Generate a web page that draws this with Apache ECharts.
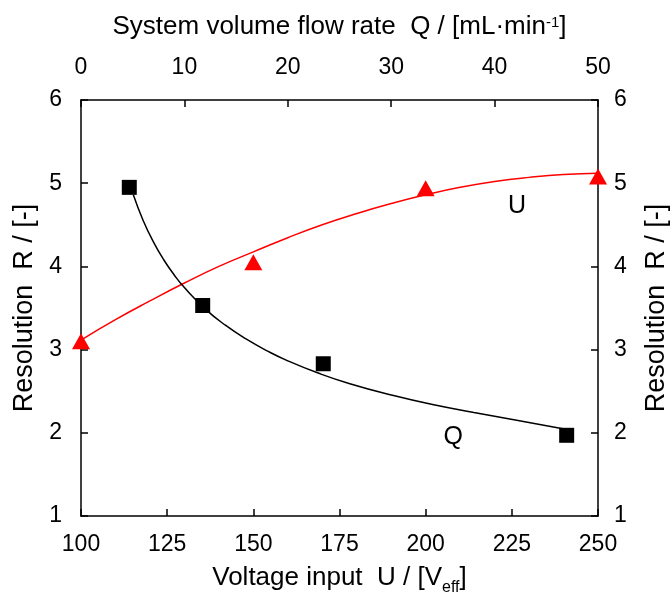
<!DOCTYPE html>
<html>
<head>
<meta charset="utf-8">
<script src="https://cdn.jsdelivr.net/npm/echarts@6/dist/echarts.min.js"></script>
<style>
  html, body { margin: 0; padding: 0; background: #fff; }
  #main { width: 672px; height: 592px; }
</style>
</head>
<body>
<div id="main"></div>
<script>
  // measured points
  const voltageU = [100, 150, 200, 250]
  const resolutionU = [3.1, 4.05, 4.94, 5.08]
  const flowQ = [4.67, 11.77, 23.43, 46.97]
  const resolutionQ = [4.95, 3.53, 2.83, 1.97]

  // fitted curves
  const fitUx = [100, 110, 120, 130, 140, 150, 160, 170, 180, 190, 200, 210, 220, 230, 240, 250]
  const fitUy = [3.115, 3.36, 3.585, 3.8, 4.0, 4.175, 4.345, 4.5, 4.635, 4.755, 4.86, 4.95, 5.02, 5.07, 5.105, 5.12]
  const fitQx = [5.06, 6, 7, 8, 9, 10, 12, 14, 16, 18, 20, 23, 26, 30, 34, 38, 42, 47]
  const fitQy = [4.86, 4.555, 4.295, 4.08, 3.9, 3.745, 3.49, 3.29, 3.125, 2.985, 2.865, 2.715, 2.59, 2.455, 2.34, 2.245, 2.155, 2.04]

  // curve labels
  const labelU = [226.5, 4.73]
  const labelQ = [36, 1.95]

  const font = 'Liberation Sans'
  const tickTxt = { fontFamily: font, fontSize: 23, color: '#000' }
  const nameTxt = { fontFamily: font, fontSize: 26, color: '#000' }

  const chart = echarts.init(document.getElementById('main'))

  const axisCommon = {
    type: 'value',
    axisLine: { show: true, lineStyle: { color: '#000', width: 1.5 } },
    axisTick: { show: true, inside: true, length: 7, lineStyle: { color: '#000', width: 1.5 } },
    splitLine: { show: false }
  }

  chart.setOption({
    animation: false,
    grid: { left: 81, top: 100, width: 517, height: 416, containLabel: false, outerBoundsMode: 'none' },
    xAxis: [
      {
        ...axisCommon,
        position: 'bottom',
        min: 100,
        max: 250,
        interval: 25,
        axisLabel: { ...tickTxt, margin: 17 },
        name: '{a|Voltage input  U / [V}{sub|eff}{a|]}',
        nameLocation: 'middle',
        nameGap: 47,
        nameTextStyle: {
          rich: {
            a: { ...nameTxt, lineHeight: 30 },
            sub: { fontFamily: font, fontSize: 16, color: '#000', lineHeight: 16, verticalAlign: 'bottom', padding: [0, 0, -3, 0] }
          }
        }
      },
      {
        ...axisCommon,
        position: 'top',
        min: 0,
        max: 50,
        interval: 10,
        axisLabel: { ...tickTxt, margin: 21 },
        name: '{a|System volume flow rate  Q / [mL·min}{sup|-1}{a|]}',
        nameLocation: 'middle',
        nameGap: 58,
        nameTextStyle: {
          rich: {
            a: { ...nameTxt, lineHeight: 30 },
            sup: { fontFamily: font, fontSize: 15, color: '#000', lineHeight: 15, verticalAlign: 'top', padding: [3, 0, 0, 0] }
          }
        }
      }
    ],
    yAxis: [
      {
        ...axisCommon,
        position: 'left',
        min: 1,
        max: 6,
        interval: 1,
        axisLabel: { ...tickTxt, margin: 19 },
        name: 'Resolution  R / [-]',
        nameLocation: 'middle',
        nameGap: 43,
        nameTextStyle: { ...nameTxt, fontSize: 27 }
      },
      {
        ...axisCommon,
        position: 'right',
        min: 1,
        max: 6,
        interval: 1,
        axisLabel: { ...tickTxt, margin: 16 },
        name: 'Resolution  R / [-]',
        nameLocation: 'middle',
        nameGap: 45,
        nameRotate: 90,
        nameTextStyle: { ...nameTxt, fontSize: 27 }
      }
    ],
    series: [
      {
        name: 'U fit',
        type: 'line',
        xAxisIndex: 0,
        yAxisIndex: 0,
        smooth: true,
        showSymbol: false,
        lineStyle: { color: '#ff0000', width: 1.5 },
        data: fitUx.map((x, i) => [x, fitUy[i]])
      },
      {
        name: 'Q fit',
        type: 'line',
        xAxisIndex: 1,
        yAxisIndex: 0,
        smooth: true,
        showSymbol: false,
        lineStyle: { color: '#000', width: 1.5 },
        data: fitQx.map((x, i) => [x, fitQy[i]])
      },
      {
        name: 'U',
        type: 'scatter',
        xAxisIndex: 0,
        yAxisIndex: 0,
        symbol: 'triangle',
        symbolSize: [18, 16],
        itemStyle: { color: '#ff0000', opacity: 1 },
        data: voltageU.map((x, i) => [x, resolutionU[i]])
      },
      {
        name: 'Q',
        type: 'scatter',
        xAxisIndex: 1,
        yAxisIndex: 0,
        symbol: 'rect',
        symbolSize: 15,
        itemStyle: { color: '#000', opacity: 1 },
        data: flowQ.map((x, i) => [x, resolutionQ[i]])
      },
      {
        name: 'labels U',
        type: 'scatter',
        xAxisIndex: 0,
        yAxisIndex: 0,
        symbolSize: 0,
        itemStyle: { opacity: 1 },
        label: { show: true, position: 'inside', formatter: 'U', ...nameTxt, fontSize: 25 },
        data: [labelU]
      },
      {
        name: 'labels Q',
        type: 'scatter',
        xAxisIndex: 1,
        yAxisIndex: 0,
        symbolSize: 0,
        itemStyle: { opacity: 1 },
        label: { show: true, position: 'inside', formatter: 'Q', ...nameTxt, fontSize: 25 },
        data: [labelQ]
      }
    ]
  })
</script>
</body>
</html>
